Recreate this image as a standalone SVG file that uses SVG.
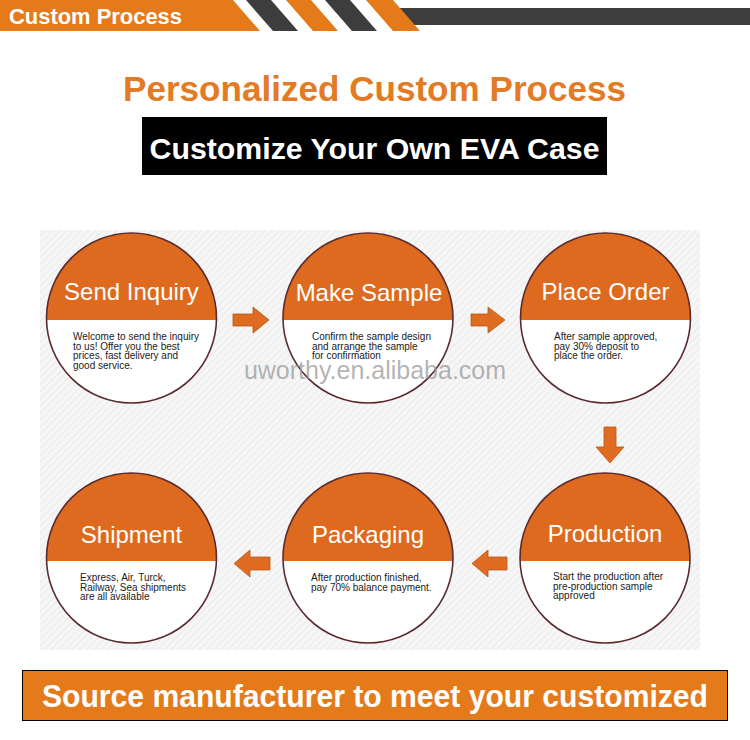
<svg xmlns="http://www.w3.org/2000/svg" width="750" height="740" viewBox="0 0 750 740">
<style>
.hdr{font-family:"Liberation Sans",Arial,sans-serif;font-weight:bold;fill:#fff}
.ttl{font-family:"Liberation Sans",Arial,sans-serif;fill:#fff;font-size:24px;text-anchor:middle}
.body{font-family:"Liberation Sans",Arial,sans-serif;fill:#1a1a1a;font-size:10px}
.ring{fill:none;stroke:#5a2a2c;stroke-width:1.6}
.cap{fill:#DE6A1F}
.arrow{fill:#DF6C20;stroke:#B8561A;stroke-width:0.8}
</style>
<defs>
<pattern id="hatch" patternUnits="userSpaceOnUse" width="5" height="5" patternTransform="rotate(45)">
<rect width="5" height="5" fill="#f6f6f6"/>
<line x1="0" y1="0" x2="0" y2="5" stroke="#e8e8e8" stroke-width="1.6"/>
</pattern>
</defs>
<rect width="750" height="740" fill="#ffffff"/>
<!-- header -->
<g id="header">
<rect x="395" y="8" width="355" height="17" fill="#3d3d3d"/>
<polygon points="0,0 233,0 260,31 0,31" fill="#E47A1A"/>
<polygon points="246,0 271,0 298,31 273,31" fill="#3d3d3d"/>
<polygon points="286,0 311,0 338,31 313,31" fill="#E47A1A"/>
<polygon points="325,0 350,0 377,31 352,31" fill="#3d3d3d"/>
<polygon points="366,0 393,0 420,31 393,31" fill="#E47A1A"/>
<text class="hdr" x="9" y="24" font-size="22" textLength="173" lengthAdjust="spacingAndGlyphs">Custom Process</text>
</g>
<g id="title">
<text x="374.5" y="101" font-family="'Liberation Sans',Arial,sans-serif" font-weight="bold" font-size="35" fill="#E27B24" text-anchor="middle" textLength="503" lengthAdjust="spacingAndGlyphs">Personalized Custom Process</text>
<rect x="142" y="117" width="465" height="58" fill="#000"/>
<text class="hdr" x="374.5" y="159" font-size="30" text-anchor="middle" textLength="450" lengthAdjust="spacingAndGlyphs">Customize Your Own EVA Case</text>
</g>
<!-- panel -->
<rect x="40" y="230" width="660" height="420" fill="url(#hatch)"/>
<!-- nodes -->
<g id="send-inquiry">
<circle cx="131.5" cy="318" r="85" fill="#fff"/>
<path class="cap" d="M46.52,320 A85,85 0 1 1 216.48,320 Z"/>
<circle class="ring" cx="131.5" cy="318" r="85"/>
<text class="ttl" x="131.5" y="300">Send Inquiry</text>
<text class="body" x="73" y="340">Welcome to send the inquiry</text>
<text class="body" x="73" y="349.5">to us! Offer you the best</text>
<text class="body" x="73" y="359">prices, fast delivery and</text>
<text class="body" x="73" y="368.5">good service.</text>
</g>
<g id="make-sample">
<circle cx="368" cy="318" r="85" fill="#fff"/>
<path class="cap" d="M283.02,320 A85,85 0 1 1 452.98,320 Z"/>
<circle class="ring" cx="368" cy="318" r="85"/>
<text class="ttl" x="369" y="301">Make Sample</text>
<text class="body" x="312" y="340">Confirm the sample design</text>
<text class="body" x="312" y="349.5">and arrange the sample</text>
<text class="body" x="312" y="359">for confirmation</text>
</g>
<g id="place-order">
<circle cx="605.5" cy="318" r="85" fill="#fff"/>
<path class="cap" d="M520.52,320 A85,85 0 1 1 690.48,320 Z"/>
<circle class="ring" cx="605.5" cy="318" r="85"/>
<text class="ttl" x="605.5" y="300">Place Order</text>
<text class="body" x="554" y="340">After sample approved,</text>
<text class="body" x="554" y="349.5">pay 30% deposit to</text>
<text class="body" x="554" y="359">place the order.</text>
</g>
<g id="production">
<circle cx="605" cy="558" r="85" fill="#fff"/>
<path class="cap" d="M520.05,561 A85,85 0 1 1 689.95,561 Z"/>
<circle class="ring" cx="605" cy="558" r="85"/>
<text class="ttl" x="605" y="542">Production</text>
<text class="body" x="553" y="580">Start the production after</text>
<text class="body" x="553" y="589.5">pre-production sample</text>
<text class="body" x="553" y="599">approved</text>
</g>
<g id="packaging">
<circle cx="368" cy="558" r="85" fill="#fff"/>
<path class="cap" d="M283.05,561 A85,85 0 1 1 452.95,561 Z"/>
<circle class="ring" cx="368" cy="558" r="85"/>
<text class="ttl" x="368" y="543">Packaging</text>
<text class="body" x="311" y="581">After production finished,</text>
<text class="body" x="311" y="590.5">pay 70% balance payment.</text>
</g>
<g id="shipment">
<circle cx="131.5" cy="558" r="85" fill="#fff"/>
<path class="cap" d="M46.55,561 A85,85 0 1 1 216.45,561 Z"/>
<circle class="ring" cx="131.5" cy="558" r="85"/>
<text class="ttl" x="131.5" y="543">Shipment</text>
<text class="body" x="80" y="581">Express, Air, Turck,</text>
<text class="body" x="80" y="590.5">Railway, Sea shipments</text>
<text class="body" x="80" y="600">are all available</text>
</g>
<!-- connectors -->
<g id="connectors">
<polygon class="arrow" points="233,314 253,314 253,307 269,320 253,333 253,326 233,326"/>
<polygon class="arrow" points="471,314 488,314 488,307 505,320 488,333 488,326 471,326"/>
<polygon class="arrow" points="604,427 616,427 616,447 624,447 610,463 596,447 604,447"/>
<polygon class="arrow" points="270,557 250,557 250,550 234,563.5 250,577 250,570 270,570"/>
<polygon class="arrow" points="507,557 488,557 488,550 472,563.5 488,577 488,570 507,570"/>
</g>
<!-- watermark (drawn over the circles, as in the reference) -->
<text x="375" y="379" font-family="'Liberation Sans',Arial,sans-serif" font-size="25" fill="#9a9a9a" fill-opacity="0.75" text-anchor="middle">uworthy.en.alibaba.com</text>
<!-- bottom banner -->
<g id="banner">
<rect x="22.5" y="670.5" width="705" height="50" fill="#E47A1A" stroke="#000" stroke-width="1"/>
<text class="hdr" x="375" y="707" font-size="32" text-anchor="middle" textLength="666" lengthAdjust="spacingAndGlyphs">Source manufacturer to meet your customized</text>
</g>
</svg>
